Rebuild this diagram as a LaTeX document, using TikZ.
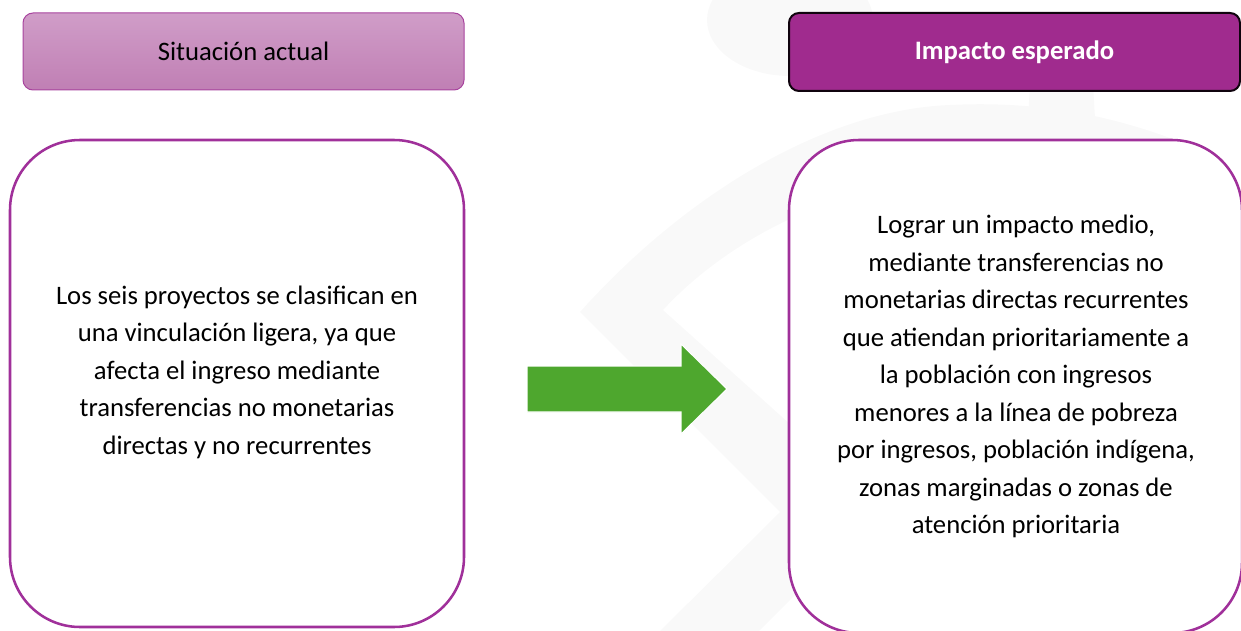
\documentclass[tikz,border=0pt]{standalone}
\usepackage{fontspec}
\setmainfont{Carlito}
\definecolor{wm}{RGB}{249,249,249}
\definecolor{hdtop}{HTML}{D09DC8}
\definecolor{hdbot}{HTML}{C07FB4}
\definecolor{hdline}{HTML}{A8449E}
\definecolor{purp}{HTML}{A02B8E}
\definecolor{boxline}{HTML}{A0309A}
\definecolor{arrowgreen}{HTML}{4EA72E}
\tikzset{
  lighthead/.style={draw=hdline, line width=0.75pt, rounded corners=7.5pt,
    top color=hdtop, bottom color=hdbot, minimum width=330.75pt, minimum height=57.75pt,
    font=\fontsize{20}{24}\selectfont, text=black},
  darkhead/.style={draw=black!90!purp, line width=1.5pt, rounded corners=7.5pt,
    fill=purp, minimum width=338.25pt, minimum height=58.5pt,
    font=\fontsize{20}{24}\selectfont\bfseries, text=white},
  bodybox/.style={draw=boxline, line width=1.9pt, rounded corners=52.5pt, fill=white},
  bodytext/.style={align=center, font=\fontsize{20}{28.1}\selectfont, text=black},
}
\begin{document}
\begin{tikzpicture}[x=0.75pt,y=-0.75pt]
\path[use as bounding box] (0,0) rectangle (1241,631);
\clip (0,0) rectangle (1241,631);
% faint watermark
\fill[wm] (790,20) ellipse [x radius=83, y radius=56];
\fill[wm] (1030,85) -- (1093,85) -- (1095,118) -- (1028,118) -- cycle;
\fill[wm] (580,312) .. controls (680,200) and (820,110) .. (950,105)
  .. controls (1050,100) and (1130,120) .. (1200,150) -- (1200,250) -- (830,250)
  -- (830,200) -- (810,210) .. controls (750,235) and (700,270) .. (663,310)
  -- (830,460) -- (830,600) -- (800,590) -- (759,631) -- (660,631) -- (780,512) -- cycle;
% header boxes
\node[lighthead] (h1) at (243.5,51.5) {Situación actual};
\node[darkhead] (h2) at (1014.5,52) {Impacto esperado};
% body boxes
\node[bodybox, minimum width=340.5pt, minimum height=365.25pt] (b1) at (237,383.5) {};
\node[bodybox, minimum width=339.75pt, minimum height=369.75pt] (b2) at (1015.5,386.5) {};
\node[bodytext] (t1) at (237,372) {Los seis proyectos se clasifican en\\una vinculación ligera, ya que\\afecta el ingreso mediante\\transferencias no monetarias\\directas y no recurrentes};
\node[bodytext] (t2) at (1016,376.5) {Lograr un impacto medio,\\mediante transferencias no\\monetarias directas recurrentes\\que atiendan prioritariamente a\\la población con ingresos\\menores a la línea de pobreza\\por ingresos, población indígena,\\zonas marginadas o zonas de\\atención prioritaria};
% arrow
\fill[arrowgreen, draw=white, line width=0.8pt] (527,366) -- (681,366) -- (681,344) -- (727,389) -- (681,434) -- (681,412) -- (527,412) -- cycle;
\end{tikzpicture}
\end{document}
